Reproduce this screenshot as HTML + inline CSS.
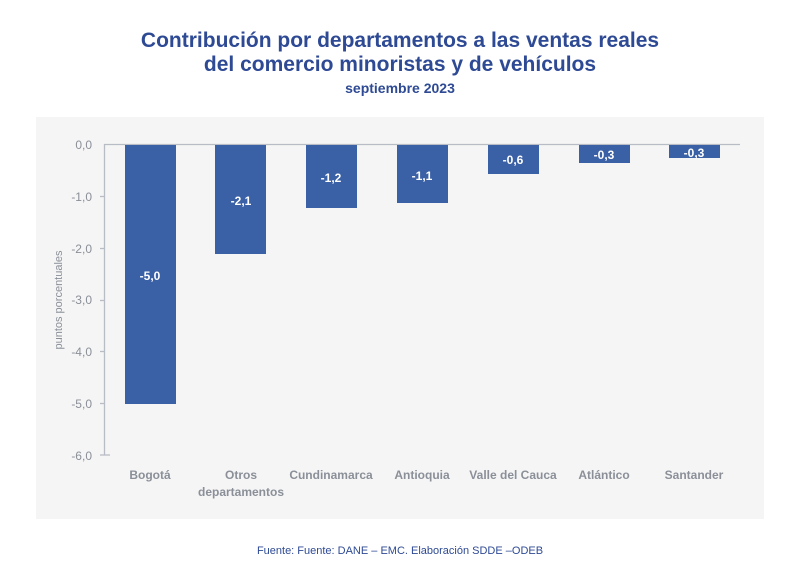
<!DOCTYPE html><html><head><meta charset="utf-8"><style>
body{margin:0;width:800px;height:582px;background:#fff;font-family:"Liberation Sans",sans-serif;}
</style></head><body>
<svg width="800" height="582" xmlns="http://www.w3.org/2000/svg" font-family="Liberation Sans, sans-serif">
<text x="400" y="47" text-anchor="middle" font-size="21" font-weight="bold" fill="#2e4a94">Contribución por departamentos a las ventas reales</text>
<text x="400" y="71" text-anchor="middle" font-size="21" font-weight="bold" fill="#2e4a94">del comercio minoristas y de vehículos</text>
<text x="400" y="93" text-anchor="middle" font-size="14" font-weight="bold" fill="#2e4a94">septiembre 2023</text>
<rect x="36" y="117" width="728" height="402" fill="#f5f5f5"/>
<g stroke="#b8bcc4" stroke-width="1.3" fill="none">
<line x1="104.5" y1="144" x2="104.5" y2="455"/>
<line x1="104" y1="144.5" x2="740" y2="144.5"/>
<line x1="100" y1="196.5" x2="104" y2="196.5"/><line x1="100" y1="248.5" x2="104" y2="248.5"/>
<line x1="100" y1="300.5" x2="104" y2="300.5"/><line x1="100" y1="351.5" x2="104" y2="351.5"/>
<line x1="100" y1="403.5" x2="104" y2="403.5"/><line x1="100" y1="455" x2="110" y2="455"/>
</g>
<g font-size="12" fill="#8a8f98" text-anchor="end">
<text x="92" y="149">0,0</text><text x="92" y="201">-1,0</text><text x="92" y="253">-2,0</text>
<text x="92" y="304">-3,0</text><text x="92" y="356">-4,0</text><text x="92" y="408">-5,0</text><text x="92" y="460">-6,0</text>
</g>
<text transform="translate(62,300) rotate(-90)" text-anchor="middle" font-size="11" fill="#8a8f98">puntos porcentuales</text>
<g fill="#3a60a6">
<rect x="125" y="145" width="51" height="259"/>
<rect x="215" y="145" width="51" height="109"/>
<rect x="306" y="145" width="51" height="63"/>
<rect x="397" y="145" width="51" height="58"/>
<rect x="488" y="145" width="51" height="29"/>
<rect x="579" y="145" width="51" height="18"/>
<rect x="669" y="145" width="51" height="13"/>
</g>
<g font-size="12" font-weight="bold" fill="#fff" text-anchor="middle">
<text x="150" y="280">-5,0</text><text x="241" y="205">-2,1</text><text x="331" y="182">-1,2</text>
<text x="422" y="180">-1,1</text><text x="513" y="164">-0,6</text><text x="604" y="159">-0,3</text><text x="694" y="157">-0,3</text>
</g>
<g font-size="12" font-weight="bold" fill="#8a8f98" text-anchor="middle">
<text x="150" y="479">Bogotá</text><text x="241" y="479">Otros</text><text x="241" y="496">departamentos</text>
<text x="331" y="479">Cundinamarca</text><text x="422" y="479">Antioquia</text><text x="513" y="479">Valle del Cauca</text>
<text x="604" y="479">Atlántico</text><text x="694" y="479">Santander</text>
</g>
<text x="400" y="554" text-anchor="middle" font-size="11" fill="#2e4a94">Fuente: Fuente: DANE – EMC. Elaboración SDDE –ODEB</text>
</svg>
</body></html>
